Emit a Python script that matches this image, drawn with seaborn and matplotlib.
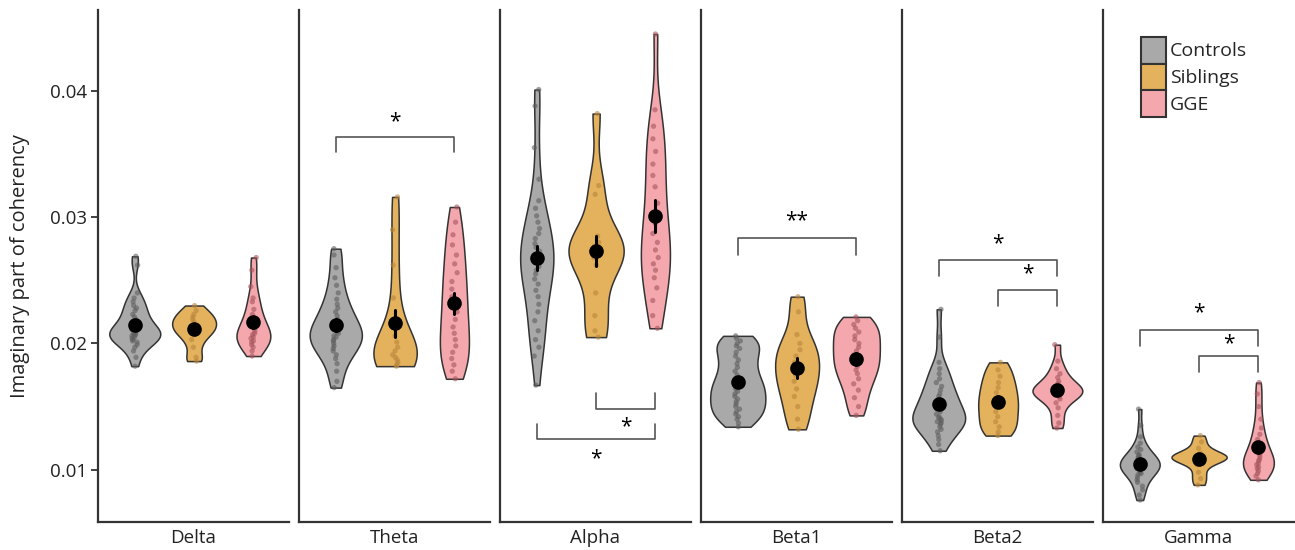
import numpy as np
import pandas as pd
import matplotlib
matplotlib.use("Agg")
import matplotlib.pyplot as plt
from matplotlib.patches import Patch
import seaborn as sns

sns.set_style("white")
plt.rcParams['font.family'] = ['Open Sans', 'DejaVu Sans']

bands = ["Delta", "Theta", "Alpha", "Beta1", "Beta2", "Gamma"]
groups = ["Controls", "Siblings", "GGE"]

delta_controls = [0.0182, 0.0189, 0.0194, 0.0197, 0.0199, 0.0201, 0.0202, 0.0203, 0.0204, 0.0205, 0.0206, 0.0207, 0.0207, 0.0208, 0.0209, 0.0210, 0.0211, 0.0212, 0.0213, 0.0215, 0.0217, 0.0219, 0.0221, 0.0223, 0.0226, 0.0228, 0.0230, 0.0233, 0.0236, 0.0240, 0.0262, 0.0269]
delta_siblings = [0.0186, 0.0189, 0.0197, 0.0203, 0.0207, 0.0209, 0.0211, 0.0213, 0.0215, 0.0217, 0.0219, 0.0221, 0.0223, 0.0226, 0.0230]
delta_gge = [0.0190, 0.0194, 0.0197, 0.0199, 0.0201, 0.0202, 0.0204, 0.0205, 0.0207, 0.0208, 0.0210, 0.0212, 0.0214, 0.0217, 0.0220, 0.0223, 0.0227, 0.0233, 0.0236, 0.0245, 0.0258, 0.0268]

theta_controls = [0.0165, 0.0170, 0.0178, 0.0184, 0.0188, 0.0191, 0.0194, 0.0196, 0.0198, 0.0200, 0.0202, 0.0203, 0.0205, 0.0206, 0.0208, 0.0209, 0.0211, 0.0213, 0.0215, 0.0217, 0.0219, 0.0222, 0.0225, 0.0228, 0.0231, 0.0235, 0.0240, 0.0246, 0.0252, 0.0260, 0.0270, 0.0275]
theta_siblings = [0.0182, 0.0183, 0.0185, 0.0187, 0.0189, 0.0191, 0.0194, 0.0197, 0.0201, 0.0206, 0.0218, 0.0236, 0.0262, 0.0290, 0.0316]
theta_gge = [0.0172, 0.0178, 0.0183, 0.0188, 0.0193, 0.0198, 0.0203, 0.0208, 0.0213, 0.0219, 0.0225, 0.0231, 0.0237, 0.0243, 0.0249, 0.0256, 0.0263, 0.0270, 0.0278, 0.0286, 0.0296, 0.0308]

alpha_controls = [0.0167, 0.0190, 0.0197, 0.0203, 0.0210, 0.0218, 0.0225, 0.0231, 0.0237, 0.0242, 0.0247, 0.0251, 0.0255, 0.0258, 0.0261, 0.0264, 0.0267, 0.0270, 0.0273, 0.0276, 0.0279, 0.0283, 0.0287, 0.0291, 0.0296, 0.0301, 0.0307, 0.0313, 0.0330, 0.0355, 0.0388, 0.0401]
alpha_siblings = [0.0205, 0.0210, 0.0222, 0.0240, 0.0262, 0.0268, 0.0271, 0.0273, 0.0275, 0.0277, 0.0280, 0.0285, 0.0318, 0.0325, 0.0382]
alpha_gge = [0.0212, 0.0222, 0.0234, 0.0244, 0.0252, 0.0258, 0.0263, 0.0268, 0.0274, 0.0280, 0.0287, 0.0295, 0.0303, 0.0311, 0.0324, 0.0333, 0.0342, 0.0352, 0.0362, 0.0372, 0.0385, 0.0445]

beta1_controls = [0.0134, 0.0137, 0.0140, 0.0142, 0.0144, 0.0146, 0.0148, 0.0150, 0.0152, 0.0154, 0.0156, 0.0158, 0.0160, 0.0162, 0.0164, 0.0166, 0.0168, 0.0170, 0.0172, 0.0175, 0.0178, 0.0181, 0.0184, 0.0187, 0.0190, 0.0193, 0.0196, 0.0198, 0.0200, 0.0202, 0.0204, 0.0206]
beta1_siblings = [0.0132, 0.0140, 0.0150, 0.0158, 0.0164, 0.0170, 0.0175, 0.0180, 0.0185, 0.0190, 0.0195, 0.0200, 0.0207, 0.0225, 0.0237]
beta1_gge = [0.0143, 0.0150, 0.0157, 0.0163, 0.0168, 0.0172, 0.0176, 0.0179, 0.0182, 0.0185, 0.0188, 0.0191, 0.0194, 0.0197, 0.0200, 0.0203, 0.0206, 0.0209, 0.0212, 0.0215, 0.0218, 0.0221]

beta2_controls = [0.0115, 0.0120, 0.0124, 0.0127, 0.0130, 0.0132, 0.0134, 0.0136, 0.0137, 0.0138, 0.0139, 0.0140, 0.0141, 0.0142, 0.0144, 0.0146, 0.0148, 0.0150, 0.0152, 0.0154, 0.0156, 0.0158, 0.0160, 0.0163, 0.0166, 0.0169, 0.0172, 0.0176, 0.0180, 0.0185, 0.0205, 0.0227]
beta2_siblings = [0.0127, 0.0130, 0.0134, 0.0138, 0.0142, 0.0146, 0.0150, 0.0153, 0.0157, 0.0161, 0.0165, 0.0169, 0.0174, 0.0179, 0.0185]
beta2_gge = [0.0133, 0.0137, 0.0143, 0.0149, 0.0153, 0.0156, 0.0158, 0.0159, 0.0160, 0.0161, 0.0162, 0.0163, 0.0164, 0.0165, 0.0166, 0.0168, 0.0170, 0.0173, 0.0176, 0.0180, 0.0186, 0.0199]

gamma_controls = [0.0076, 0.0080, 0.0084, 0.0087, 0.0090, 0.0092, 0.0094, 0.0096, 0.0097, 0.0098, 0.0099, 0.0100, 0.0101, 0.0102, 0.0103, 0.0104, 0.0104, 0.0105, 0.0106, 0.0107, 0.0108, 0.0109, 0.0110, 0.0111, 0.0112, 0.0114, 0.0116, 0.0118, 0.0121, 0.0126, 0.0135, 0.0148]
gamma_siblings = [0.0088, 0.0093, 0.0098, 0.0104, 0.0107, 0.0108, 0.0109, 0.0110, 0.0110, 0.0111, 0.0112, 0.0113, 0.0117, 0.0122, 0.0127]
gamma_gge = [0.0092, 0.0095, 0.0097, 0.0099, 0.0101, 0.0102, 0.0104, 0.0105, 0.0107, 0.0108, 0.0110, 0.0112, 0.0114, 0.0117, 0.0120, 0.0124, 0.0128, 0.0133, 0.0140, 0.0150, 0.0160, 0.0169]

data_by_band = {
    "Delta": [delta_controls, delta_siblings, delta_gge],
    "Theta": [theta_controls, theta_siblings, theta_gge],
    "Alpha": [alpha_controls, alpha_siblings, alpha_gge],
    "Beta1": [beta1_controls, beta1_siblings, beta1_gge],
    "Beta2": [beta2_controls, beta2_siblings, beta2_gge],
    "Gamma": [gamma_controls, gamma_siblings, gamma_gge],
}

# style: maximum violin width (category units) as drawn in the reference
violin_widths = {
    "Delta": [0.86, 0.74, 0.57],
    "Theta": [0.88, 0.73, 0.49],
    "Alpha": [0.56, 0.93, 0.49],
    "Beta1": [0.93, 0.74, 0.79],
    "Beta2": [0.89, 0.67, 0.84],
    "Gamma": [0.67, 0.93, 0.52],
}

# significance brackets: (band, group_a, group_b, bar_y, tip_y, star_y, label)
comparisons = [
    ("Theta", 0, 2, 0.03634, 0.03515, 0.03753, "*"),
    ("Alpha", 1, 2, 0.01478, 0.01605, 0.01343, "*"),
    ("Alpha", 0, 2, 0.01247, 0.01359, 0.01088, "*"),
    ("Beta1", 0, 2, 0.02831, 0.02703, 0.02974, "**"),
    ("Beta2", 0, 2, 0.02663, 0.02536, 0.02791, "*"),
    ("Beta2", 1, 2, 0.02425, 0.02298, 0.02552, "*"),
    ("Gamma", 0, 2, 0.02107, 0.01979, 0.02242, "*"),
    ("Gamma", 1, 2, 0.01900, 0.01772, 0.01995, "*"),
]

fill_colors = ["#a9a9a9", "#e4b25c", "#f4a8ae"]
point_colors = ["#5e5e5e", "#b8863c", "#a7545d"]
edge = "#333333"

rows = []
for band in bands:
    for g, vals in zip(groups, data_by_band[band]):
        for v in vals:
            rows.append((band, g, v))
df = pd.DataFrame(rows, columns=["band", "group", "value"])

fig, axes = plt.subplots(1, 6, figsize=(12.95, 5.5), dpi=100, sharey=True)
fig.subplots_adjust(left=98/1295, right=1294/1295, bottom=1-522/550, top=1-10/550, wspace=10/191)

np.random.seed(3)
for ax, band in zip(axes, bands):
    sub = df[df.band == band]
    for gi, g in enumerate(groups):
        sg = sub[sub.group == g]
        sns.violinplot(data=sg, x="group", y="value", order=groups, color=fill_colors[gi],
                       cut=0, density_norm="width", width=violin_widths[band][gi],
                       inner=None, linewidth=1.1, linecolor=edge, saturation=1, bw_adjust=0.7,
                       ax=ax)
    sns.stripplot(data=sub, x="group", y="value", hue="group", order=groups, hue_order=groups,
                  palette=point_colors, jitter=0.05, size=3.8, alpha=0.6, linewidth=0,
                  legend=False, ax=ax, zorder=3)
    sns.pointplot(data=sub, x="group", y="value", order=groups, color="black", errorbar="se",
                  linestyle="none", marker="o", markersize=8.5, err_kws={"linewidth": 2.2},
                  ax=ax, zorder=5)
    for b, a, c, ybar, ytip, ystar, lab in comparisons:
        if b != band:
            continue
        ax.plot([a, a, c, c], [ytip, ybar, ybar, ytip], color="#555555", lw=1.2, zorder=4)
        ax.text((a + c) / 2, ystar, lab, ha="center", va="center", fontsize=15, color="black")
    ax.set_xlim(-0.62, 2.6)
    ax.set_ylim(0.00586, 0.0464)
    ax.set_xticks([])
    ax.set_xlabel(band, fontsize=13.5, color="#222222", labelpad=5)
    ax.set_ylabel("")
    for s in ["top", "right"]:
        ax.spines[s].set_visible(False)
    for s in ["left", "bottom"]:
        ax.spines[s].set_color(edge)
        ax.spines[s].set_linewidth(1.6)

axes[0].set_yticks([0.01, 0.02, 0.03, 0.04])
axes[0].set_yticklabels(["0.01", "0.02", "0.03", "0.04"])
axes[0].tick_params(axis="y", length=5, width=1.3, color=edge, labelsize=13.5, labelcolor="#222222", left=True, pad=3)
for ax in axes[1:]:
    ax.tick_params(axis="y", left=False, labelleft=False)
axes[0].set_ylabel("Imaginary part of coherency", fontsize=14.5, color="#222222", labelpad=14)

handles = [Patch(facecolor=c, edgecolor=edge, linewidth=1.5, label=g) for c, g in zip(fill_colors, groups)]
axes[-1].legend(handles=handles, loc="upper left", bbox_to_anchor=(0.199, 0.948), frameon=False,
                fontsize=14, handlelength=1.3, handleheight=1.75, labelspacing=0.0,
                handletextpad=0.2, borderpad=0, borderaxespad=0)

fig.savefig("out.png", dpi=100)
